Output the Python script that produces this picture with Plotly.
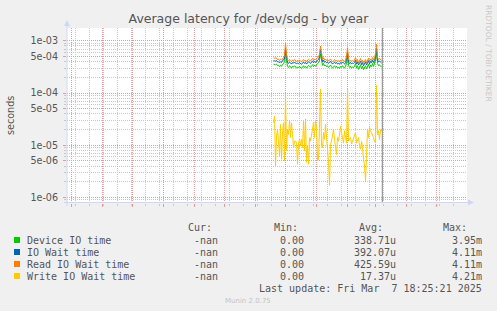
import numpy as np
import pandas as pd
import plotly.graph_objects as go

# ---------------- data (microseconds, daily) ----------------
start_date = "2024-11-19"
device_us = [360,355,350,360,335,340,320,340,325,355,365,400,600,420,325,310,335,320,300,325,
             315,335,310,300,320,305,325,310,295,315,335,310,325,300,315,340,325,310,335,350,
             320,345,325,360,370,380,430,560,390,340,370,330,345,320,335,310,325,345,320,300,
             320,335,310,325,300,315,295,325,310,335,315,300,325,380,520,340,310,325,300,320,
             310,325,370,300,335,285,315,350,290,325,280,310,335,290,325,360,300,345,320,370,
             325,360,430,600,370,335,350,325,320]
iowait_us = [420,415,410,420,395,400,380,400,385,420,430,470,720,500,385,370,395,380,360,385,
             375,395,370,360,380,365,385,370,355,375,395,370,385,360,375,400,385,370,395,410,
             380,405,385,420,430,440,500,680,450,400,430,390,405,380,395,370,385,405,380,360,
             380,395,370,385,360,375,355,385,370,395,375,360,385,440,620,400,370,385,360,380,
             370,385,430,360,395,345,375,410,350,385,335,370,395,345,385,420,360,405,380,430,
             385,420,500,720,430,395,410,385,380]
read_us = [470,468,465,470,440,450,420,445,430,470,480,520,900,560,430,410,440,420,400,430,
           415,440,410,400,425,405,430,415,395,420,440,410,430,400,420,445,430,410,440,460,
           420,450,430,470,480,490,560,800,500,440,480,430,450,420,440,410,430,450,420,400,
           420,440,410,430,400,420,395,430,410,440,420,400,430,500,740,450,410,430,400,420,
           410,430,480,400,440,380,420,460,390,430,370,410,440,380,430,470,400,450,420,480,
           430,470,580,860,480,440,460,430,420]
write_us = [27,36,4.0,15,20,11,6.3,25,5.4,18,27,5.0,95,7.8,20,16,29,14,27,16,
            9.0,12,12,11,4.3,11,13,9.7,13,9.0,29,7.8,32,4.7,10,4.3,14,12,16,20,
            27,14,29,23,5.0,5.4,20,120,9.7,9.0,17.5,13,25,14,10,4.7,1.7,10.5,12,15,
            20,13,9.7,6.7,14,12,16,23,17.5,13,11,19,14,11,120,12,13,14,10.5,12,
            13,15,17.5,11,13,14,10,8.4,12,9.0,5.4,4.0,2.1,9.7,20,14,22,19,17.5,16,
            14,12,11,140,16,19,13,20,19]

series_names = ["Device IO time", "IO Wait time", "Read IO Wait time", "Write IO Wait time"]
series_colors = ["#00CC00", "#0066B3", "#FF8000", "#FFCC00"]
cur_vals = ["-nan", "-nan", "-nan", "-nan"]
min_vals = ["0.00", "0.00", "0.00", "0.00"]
avg_vals = ["338.71u", "392.07u", "425.59u", "17.37u"]
max_vals = ["3.95m", "4.11m", "4.11m", "4.21m"]

title_text = "Average latency for /dev/sdg - by year"
last_update = "Last update: Fri Mar  7 18:25:21 2025"
now_time = "2025-03-07 18:25:21"
x_range = ["2024-04-26 11:00", "2025-05-31 11:00"]
y_tickvals = [1e-6, 5e-6, 1e-5, 5e-5, 1e-4, 5e-4, 1e-3]
y_ticktext = ["1e-06", "5e-06", "1e-05", "5e-05", "1e-04", "5e-04", "1e-03"]
x_label_vals = ["2024-07-16", "2024-10-16", "2025-01-16", "2025-04-16"]
x_label_text = ["July 2024", "October 2024", "January 2025", "April 2025"]

# ---------------- figure ----------------
W, H = 497, 311
L, R, T, B = 67, 30, 28, 108
PW, PH = W - L - R, H - T - B


def px(xp):
    return (xp - L) / PW


def py(yp):
    return (H - B - yp) / PH


dates = pd.date_range(start_date, periods=len(read_us), freq="D")
fig = go.Figure()
for name, color, vals in zip(series_names, series_colors,
                             [device_us, iowait_us, read_us, write_us]):
    fig.add_trace(go.Scatter(x=dates, y=np.array(vals) * 1e-6, mode="lines",
                             name=name, line=dict(color=color, width=1),
                             showlegend=False))

FONT = "DejaVu Sans"
MONO = "DejaVu Sans Mono"
TXT = "#555555"
MGRID = "#E89A9A"
GRID = "#C8C8C8"
AXIS = "#CFD6F8"
DOT = "1px,1px"

month_starts = pd.date_range("2024-05-01", "2025-05-01", freq="MS")
biweekly = pd.date_range("2024-05-05", "2025-05-31", freq="14D")
minor_y = [k * 10.0 ** d for d in range(-7, -2) for k in (2, 3, 4, 6, 7, 8, 9)]

fig.update_layout(
    width=W, height=H,
    margin=dict(l=L, r=R, t=T, b=B, pad=0),
    paper_bgcolor="#F0F0F0", plot_bgcolor="#FFFFFF",
    font=dict(family=FONT, size=9.6, color=TXT),
    title=dict(text=title_text, x=0.5, xref="container", xanchor="center",
               y=1 - 19 / H, yref="container", yanchor="middle",
               font=dict(family=FONT, size=12.5, color=TXT)),
    xaxis=dict(type="date", range=x_range, tickmode="array", tickvals=month_starts,
               showticklabels=False, showgrid=True, gridcolor=MGRID, griddash=DOT,
               gridwidth=1, ticks="outside", ticklen=3, tickcolor=MGRID,
               showline=False, zeroline=False,
               minor=dict(tickmode="array", tickvals=biweekly, showgrid=True,
                          gridcolor=GRID, griddash=DOT, gridwidth=1,
                          ticks="outside", ticklen=2, tickcolor=GRID)),
    xaxis2=dict(type="date", range=x_range, overlaying="x", anchor="y", side="bottom",
                tickmode="array", tickvals=x_label_vals, ticktext=x_label_text,
                showgrid=False, ticks="", zeroline=False, showline=False,
                ticklabelstandoff=4,
                tickfont=dict(family=FONT, size=9.6, color=TXT)),
    yaxis=dict(type="log", range=[-6.107, -2.752], tickmode="array",
               tickvals=y_tickvals, ticktext=y_ticktext,
               showgrid=True, gridcolor=MGRID, griddash=DOT, gridwidth=1,
               ticks="outside", ticklen=3, tickcolor=MGRID, zeroline=False,
               ticklabelstandoff=3,
               tickfont=dict(family=FONT, size=9.6, color=TXT),
               minor=dict(tickmode="array", tickvals=minor_y, showgrid=True,
                          gridcolor=GRID, griddash=DOT, gridwidth=1,
                          ticks="outside", ticklen=2, tickcolor=GRID)),
)

shapes = []
# now line
shapes.append(dict(type="line", xref="x", yref="paper", x0=now_time, x1=now_time,
                   y0=0, y1=1, line=dict(color="#808080", width=1)))
# axes + arrows
shapes.append(dict(type="line", xref="paper", yref="paper", x0=px(67), x1=px(67),
                   y0=py(206), y1=py(24), line=dict(color=AXIS, width=1)))
shapes.append(dict(type="path", xref="paper", yref="paper",
                   path=f"M {px(64)},{py(26)} L {px(70)},{py(26)} L {px(67)},{py(20)} Z",
                   fillcolor=AXIS, line=dict(color=AXIS, width=0)))
shapes.append(dict(type="line", xref="paper", yref="paper", x0=px(64), x1=px(470),
                   y0=py(202.5), y1=py(202.5), line=dict(color=AXIS, width=1)))
shapes.append(dict(type="path", xref="paper", yref="paper",
                   path=f"M {px(468)},{py(199.5)} L {px(468)},{py(205.5)} L {px(474)},{py(202.5)} Z",
                   fillcolor=AXIS, line=dict(color=AXIS, width=0)))

annotations = []
row_y = [240, 252, 264, 276]
for i, (name, color) in enumerate(zip(series_names, series_colors)):
    yc = row_y[i]
    shapes.append(dict(type="rect", xref="paper", yref="paper",
                       x0=px(14), x1=px(20), y0=py(yc + 3), y1=py(yc - 3),
                       fillcolor=color, line=dict(width=0)))
    annotations.append(dict(text=name, x=px(26), y=py(yc), xref="paper", yref="paper",
                            xanchor="left", yanchor="middle", showarrow=False, borderpad=0,
                            font=dict(family=MONO, size=10, color=TXT)))
    for val, xr in ((cur_vals[i], 219), (min_vals[i], 305), (avg_vals[i], 397),
                    (max_vals[i], 482.5)):
        annotations.append(dict(text=val, x=px(xr), y=py(yc), xref="paper", yref="paper",
                                xanchor="right", yanchor="middle", showarrow=False,
                                borderpad=0, font=dict(family=MONO, size=10, color=TXT)))

for txt, xr in (("Cur:", 212.5), ("Min:", 299), ("Avg:", 383.5), ("Max:", 468.5)):
    annotations.append(dict(text=txt, x=px(xr), y=py(227), xref="paper", yref="paper",
                            xanchor="right", yanchor="middle", showarrow=False, borderpad=0,
                            font=dict(family=MONO, size=10, color=TXT)))

annotations.append(dict(text=last_update, x=px(482.5), y=py(288), xref="paper", yref="paper",
                        xanchor="right", yanchor="middle", showarrow=False, borderpad=0,
                        font=dict(family=MONO, size=10, color=TXT)))
annotations.append(dict(text="Munin 2.0.75", x=px(248), y=py(301), xref="paper", yref="paper",
                        xanchor="center", yanchor="middle", showarrow=False, borderpad=0,
                        font=dict(family=FONT, size=7, color="#C4C4C4")))
annotations.append(dict(text="seconds", x=px(10), y=py(116), xref="paper", yref="paper",
                        xanchor="center", yanchor="middle", showarrow=False, borderpad=0,
                        textangle=-90, font=dict(family=FONT, size=9.6, color=TXT)))
annotations.append(dict(text="RRDTOOL / TOBI OETIKER", x=px(488.5), y=py(53.5),
                        xref="paper", yref="paper", xanchor="center", yanchor="middle",
                        showarrow=False, borderpad=0, textangle=90,
                        font=dict(family=FONT, size=7.5, color="#C8C8C8")))

fig.update_layout(shapes=shapes, annotations=annotations)
fig.write_html("out.html")
